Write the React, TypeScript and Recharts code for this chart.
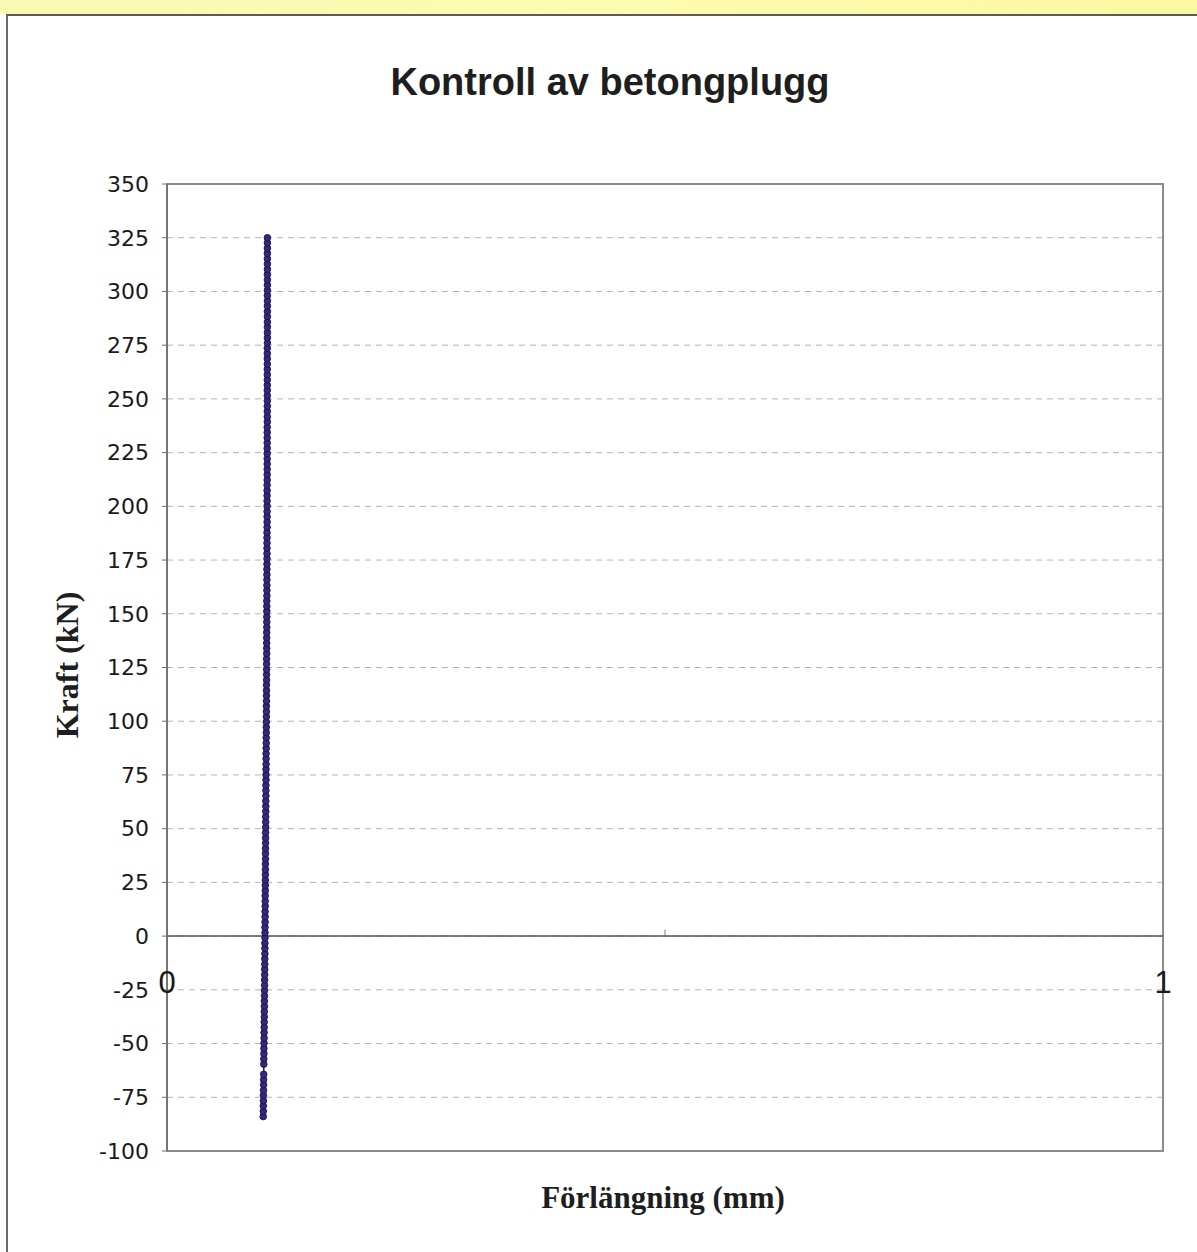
import { ScatterChart, Scatter, XAxis, YAxis, CartesianGrid, ReferenceLine, ReferenceArea, ReferenceDot } from 'recharts'

// Förlängning (mm) per mätpunkt
const forlangning = [
  0.0966, 0.0967, 0.0967, 0.0968, 0.0968, 0.0969, 0.0970, 0.0970, 0.0971, 0.0972,
  0.0972, 0.0973, 0.0973, 0.0974, 0.0975, 0.0975, 0.0976, 0.0976, 0.0977, 0.0977,
  0.0978, 0.0978, 0.0979, 0.0979, 0.0980, 0.0980, 0.0981, 0.0981, 0.0982, 0.0982,
  0.0983, 0.0983, 0.0983, 0.0984, 0.0984, 0.0984, 0.0985, 0.0985, 0.0985, 0.0986,
  0.0986, 0.0986, 0.0987, 0.0987, 0.0987, 0.0988, 0.0988, 0.0988, 0.0989, 0.0989,
  0.0989, 0.0990, 0.0990, 0.0990, 0.0991, 0.0991, 0.0991, 0.0992, 0.0992, 0.0992,
  0.0993, 0.0993, 0.0993, 0.0994, 0.0994, 0.0994, 0.0995, 0.0995, 0.0995, 0.0996,
  0.0996, 0.0996, 0.0997, 0.0997, 0.0997, 0.0998, 0.0998, 0.0998, 0.0999, 0.0999,
  0.0999, 0.0999, 0.1000, 0.1000, 0.1000, 0.1000, 0.1000, 0.1001, 0.1001, 0.1001,
  0.1001, 0.1001, 0.1002, 0.1002, 0.1002, 0.1002, 0.1002, 0.1002, 0.1003, 0.1003,
  0.1003, 0.1003, 0.1003, 0.1003, 0.1004, 0.1004, 0.1004, 0.1004, 0.1004, 0.1004,
  0.1004, 0.1005, 0.1005, 0.1005, 0.1005, 0.1005, 0.1005, 0.1005, 0.1005, 0.1005,
  0.1006, 0.1006, 0.1006, 0.1006, 0.1006, 0.1006, 0.1006, 0.1006, 0.1006, 0.1006,
  0.1006, 0.1007, 0.1007, 0.1007, 0.1007, 0.1007, 0.1007, 0.1007, 0.1007, 0.1007,
  0.1007, 0.1007, 0.1007, 0.1007, 0.1007, 0.1007, 0.1008, 0.1008, 0.1008, 0.1008,
  0.1008, 0.1008, 0.1008, 0.1008, 0.1008, 0.1008, 0.1008, 0.1008, 0.1008, 0.1008,
  0.1008, 0.1008, 0.1008, 0.1008, 0.1008, 0.1008, 0.1008,
]

// Kraft (kN) per mätpunkt
const kraft = [
  -84.0, -81.5, -79.0, -76.6, -74.1, -71.7, -69.2, -66.8, -64.3, -59.6,
  -57.2, -54.7, -52.3, -49.8, -47.4, -44.9, -42.5, -40.0, -37.6, -35.1,
  -32.7, -30.2, -27.8, -25.3, -22.9, -20.4, -18.0, -15.5, -13.1, -10.6,
  -8.2, -5.7, -3.3, -0.8, 1.6, 4.1, 6.5, 9.0, 11.4, 13.9,
  16.3, 18.8, 21.2, 23.7, 26.1, 28.6, 31.0, 33.5, 35.9, 38.4,
  40.8, 43.3, 45.7, 48.2, 50.6, 53.1, 55.5, 58.0, 60.4, 62.9,
  65.3, 67.8, 70.2, 72.7, 75.1, 77.6, 80.0, 82.5, 84.9, 87.4,
  89.8, 92.3, 94.7, 97.2, 99.6, 102.1, 104.5, 107.0, 109.4, 111.9,
  114.3, 116.8, 119.2, 121.7, 124.1, 126.6, 129.0, 131.5, 133.9, 136.4,
  138.8, 141.3, 143.7, 146.2, 148.6, 151.1, 153.5, 156.0, 158.4, 160.9,
  163.3, 165.8, 168.2, 170.7, 173.1, 175.6, 178.0, 180.5, 182.9, 185.4,
  187.8, 190.3, 192.7, 195.2, 197.6, 200.1, 202.5, 205.0, 207.4, 209.9,
  212.3, 214.8, 217.2, 219.7, 222.1, 224.6, 227.0, 229.5, 231.9, 234.4,
  236.8, 239.3, 241.7, 244.2, 246.6, 249.1, 251.5, 254.0, 256.4, 258.9,
  261.3, 263.8, 266.2, 268.7, 271.1, 273.6, 276.0, 278.5, 280.9, 283.4,
  285.8, 288.3, 290.7, 293.2, 295.6, 298.1, 300.5, 303.0, 305.4, 307.9,
  310.3, 312.8, 315.2, 317.7, 320.1, 322.6, 325.0,
]

const yTicks = [-100, -75, -50, -25, 0, 25, 50, 75, 100, 125, 150, 175, 200, 225, 250, 275, 300, 325, 350]
const xTickLabels = [0, 1]

const data = kraft.map((k, i) => ({ forlangning: forlangning[i], kraft: k }))

const Marker = (props: any) => {
  const { cx, cy } = props
  if (cx == null || cy == null) return null
  return <circle cx={cx} cy={cy} r={3.3} fill="#33297d" stroke="#19134a" strokeWidth={0.9} />
}

export default function App() {
  return (
    <div style={{ position: 'absolute', top: 0, left: 0, width: 1197, height: 1252, background: '#fff', overflow: 'hidden' }}>
      {/* gul kant högst upp + ram */}
      <div style={{ position: 'absolute', top: 0, left: 0, width: 1197, height: 14, background: 'linear-gradient(90deg, #fbf8b4, #fdfbb0 50%, #fcf7a2)' }} />
      <div style={{ position: 'absolute', top: 14, left: 6, width: 1197, height: 1252, borderTop: '2px solid #5a5a5a', borderLeft: '2px solid #6a6a6a' }} />

      <ScatterChart width={1197} height={1252} margin={{ top: 184, right: 34, bottom: 101, left: 107 }}>
        <CartesianGrid horizontal vertical={false} stroke="#b4b4b4" strokeDasharray="6 5" />
        <XAxis type="number" dataKey="forlangning" domain={[0, 1]} hide />
        <YAxis
          type="number"
          dataKey="kraft"
          domain={[-100, 350]}
          ticks={yTicks}
          interval={0}
          width={60}
          axisLine={{ stroke: '#6e6e6e', strokeWidth: 1.5 }}
          tickLine={{ stroke: '#6e6e6e' }}
          tickSize={5}
          tickMargin={13}
          tick={{ fill: '#1a1a1a', fontSize: 22, fontFamily: 'DejaVu Sans' }}
        />
        <ReferenceArea x1={0} x2={1} y1={-100} y2={350} fill="none" stroke="#8c8c8c" strokeWidth={2} ifOverflow="visible" />
        <ReferenceLine y={0} stroke="#555" strokeWidth={1.5} />
        <ReferenceLine segment={[{ x: 0.5, y: 0 }, { x: 0.5, y: 3 }]} stroke="#777" />
        {xTickLabels.map((v) => (
          <ReferenceDot
            key={v}
            x={v}
            y={0}
            r={0}
            fill="none"
            stroke="none"
            ifOverflow="visible"
            label={{ value: String(v), position: 'bottom', offset: 35, fill: '#1a1a1a', fontSize: 31, fontFamily: 'Liberation Sans' }}
          />
        ))}
        <Scatter
          data={data}
          line={{ stroke: '#221a66', strokeWidth: 1.5 }}
          lineType="joint"
          shape={<Marker />}
          isAnimationActive={false}
        />
      </ScatterChart>

      <div style={{ position: 'absolute', top: 63, left: 610, transform: 'translateX(-50%)', whiteSpace: 'nowrap', fontFamily: 'Liberation Sans', fontWeight: 'bold', fontSize: 38, lineHeight: 1, color: '#1e1e1e' }}>
        Kontroll av betongplugg
      </div>
      <div style={{ position: 'absolute', top: 665, left: 67, transform: 'translate(-50%, -50%) rotate(-90deg)', whiteSpace: 'nowrap', fontFamily: 'Liberation Serif', fontWeight: 'bold', fontSize: 32, lineHeight: 1, color: '#1e1e1e' }}>
        Kraft (kN)
      </div>
      <div style={{ position: 'absolute', top: 1182, left: 663, transform: 'translateX(-50%)', whiteSpace: 'nowrap', fontFamily: 'Liberation Serif', fontWeight: 'bold', fontSize: 31, lineHeight: 1, color: '#1e1e1e' }}>
        Förlängning (mm)
      </div>
    </div>
  )
}
